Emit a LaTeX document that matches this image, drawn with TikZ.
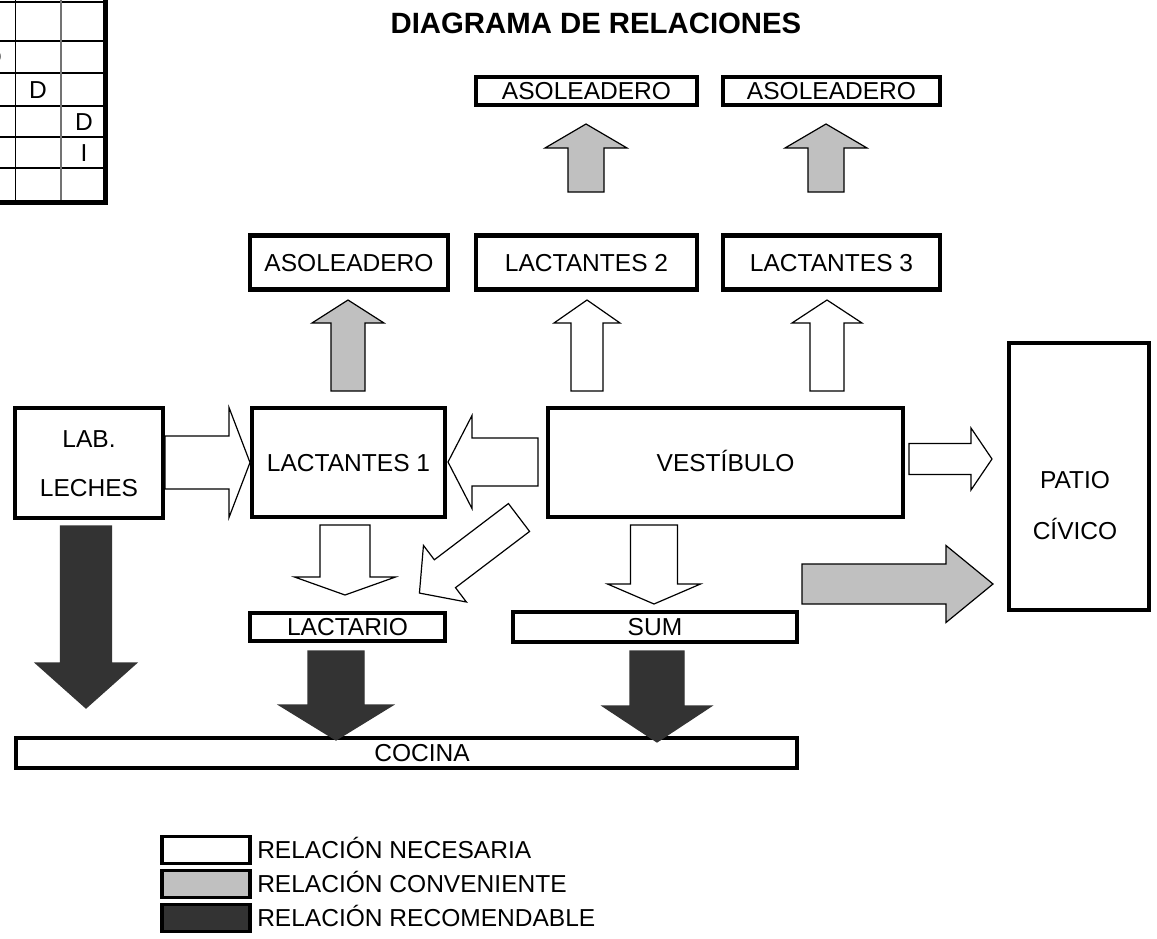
\documentclass[tikz,border=0pt]{standalone}
\usepackage{fontspec}
\setmainfont{Liberation Sans}
\newcommand\lblfnt{\fontsize{18.4}{22}\selectfont}
\definecolor{lgray}{HTML}{C0C0C0}
\definecolor{dgray}{HTML}{333333}
\tikzset{
  pics/barrow/.style n args={4}{code={%
    \path[pic actions] (0,-#2) -- ({#1-#4},-#2) -- ({#1-#4},-#3) -- (#1,0)
      -- ({#1-#4},#3) -- ({#1-#4},#2) -- (0,#2) -- cycle;}},
  bx/.style 2 args={minimum width=#1*0.75pt, minimum height=#2*0.75pt},
  box/.style={draw, line width=3.6pt, inner sep=0pt, font=\lblfnt, text height=13.2pt, text depth=0pt},
  lbl/.style={inner sep=0pt, font=\lblfnt, text height=13.2pt, text depth=0pt},
  mlbl/.style={inner sep=0pt, align=center},
  warr/.style={draw, fill=white, line width=0.9pt, line join=miter},
  garr/.style={draw, fill=lgray, line width=0.9pt, line join=miter},
  darr/.style={draw=black!80, fill=dgray, line width=0.9pt, line join=miter},
  leg/.style={draw, line width=2.4pt, inner sep=0pt, minimum width=88*0.75pt, minimum height=27*0.75pt},
  grid/.style={line width=0.9pt},
}
\begin{document}
\begin{tikzpicture}[x=0.75pt,y=-0.75pt]
\path[use as bounding box, clip] (0,0) rectangle (1157,939);
\fill[white] (0,0) rectangle (1157,939);

% table fragment
\draw[grid] (0,2) -- (105,2);
\draw[grid] (0,41) -- (105,41);
\draw[grid] (0,73) -- (105,73);
\draw[grid] (0,106) -- (105,106);
\draw[grid] (0,137) -- (105,137);
\draw[grid] (0,168) -- (105,168);
\draw[grid] (15.5,0) -- (15.5,200);
\draw[grid, black!55] (61,0) -- (61,200);
\draw[line width=3.75pt] (105.5,-5) -- (105.5,202.5) -- (-5,202.5);
\node[lbl] (tda) at (-7,57) {D};
\node[lbl] (tdb) at (38,89.5) {D};
\node[lbl] (tdc) at (84,121.5) {D};
\node[lbl] (tdi) at (84,152.5) {I};

% title
\node[inner sep=0pt, font=\fontsize{22}{26}\selectfont\bfseries, text height=15.75pt, text depth=0pt] (title) at (596,23) {DIAGRAMA DE RELACIONES};

% boxes
\node[box, bx={221}{28}] (asolA) at (586.5,91) {ASOLEADERO};
\node[box, bx={217}{28}] (asolB) at (831.5,91) {ASOLEADERO};
\node[box, bx={198}{54}] (asolC) at (349,262.5) {ASOLEADERO};
\node[box, bx={221}{54}] (lact2) at (586.5,262.5) {LACTANTES 2};
\node[box, bx={217}{54}] (lact3) at (831.5,262.5) {LACTANTES 3};
\node[box, bx={148}{110}] (lab) at (89,463) {};
\node[mlbl, font=\fontsize{18.4}{36.75}\selectfont] (labt) at (89,464) {LAB.\\LECHES};
\node[box, bx={193}{109}] (lact1) at (348.5,462.5) {LACTANTES 1};
\node[box, bx={355}{109}] (vest) at (725.5,462.5) {VESTÍBULO};
\node[box, bx={140}{267}] (patio) at (1079,476.5) {};
\node[mlbl, font=\fontsize{18.4}{38.25}\selectfont] (patiot) at (1075,505.5) {PATIO\\CÍVICO};
\node[box, bx={195}{28}] (lactario) at (347.5,627) {LACTARIO};
\node[box, bx={284}{30}] (sum) at (655,627) {SUM};
\node[box, bx={781}{30}] (cocina) at (406.5,753) {};
\node[lbl] (cocinat) at (422,753) {COCINA};

% arrows
\pic[garr, rotate=90] (ga1) at (586,192) {barrow={68}{18}{41}{24}};
\pic[garr, rotate=90] (ga2) at (826,192) {barrow={68}{18}{41}{24}};
\pic[garr, rotate=90] (ga3) at (348,391) {barrow={91}{17}{36}{23}};
\pic[warr, rotate=90] (wa1) at (587,391) {barrow={91}{16}{33}{23}};
\pic[warr, rotate=90] (wa2) at (827,391) {barrow={91}{17}{35}{23}};
\pic[warr] (wa3) at (165,462.5) {barrow={85}{26.5}{55}{21}};
\pic[warr, rotate=180] (wa4) at (538,462) {barrow={90}{24}{46.5}{24}};
\pic[warr, rotate=-90] (wa5) at (345,525) {barrow={70}{25}{50.5}{18}};
\pic[warr, rotate=217.2] (wa6) at (519,517.5) {barrow={125}{17.5}{35.5}{32}};
\pic[warr, rotate=-90] (wa7) at (654,525) {barrow={79}{23.5}{46.5}{20}};
\pic[warr] (wa8) at (909,459) {barrow={83}{15.5}{31}{21}};
\pic[garr] (ga4) at (802,584) {barrow={191}{20}{38.5}{47}};
\pic[darr, rotate=-90] (da1) at (86,526) {barrow={182}{25.5}{50.5}{45}};
\pic[darr, rotate=-90] (da2) at (336,651) {barrow={89}{28}{57}{35}};
\pic[darr, rotate=-90] (da3) at (657,651) {barrow={91}{27}{54.5}{36}};

% legend
\node[leg, fill=white] (lg1) at (206,850) {};
\node[leg, fill=lgray] (lg2) at (206,884) {};
\node[leg, fill=dgray] (lg3) at (206,918) {};
\node[lbl, anchor=west] (lt1) at (257,850) {RELACIÓN NECESARIA};
\node[lbl, anchor=west] (lt2) at (257,884) {RELACIÓN CONVENIENTE};
\node[lbl, anchor=west] (lt3) at (257,918) {RELACIÓN RECOMENDABLE};
\end{tikzpicture}
\end{document}
